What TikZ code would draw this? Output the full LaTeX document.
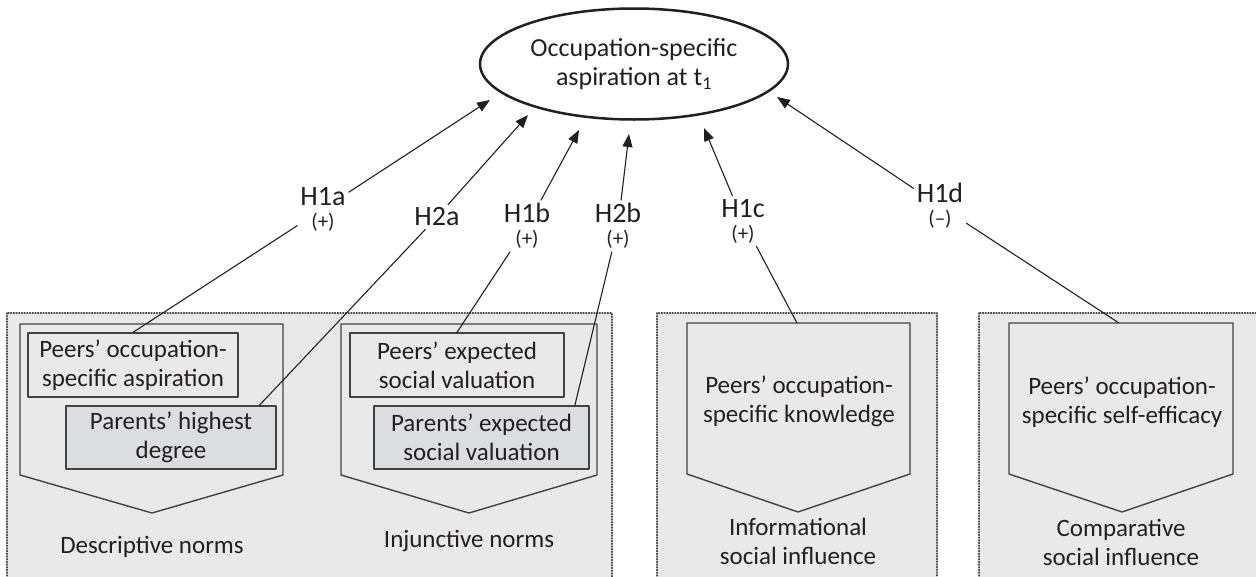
\documentclass[tikz,border=0pt]{standalone}
\usepackage{fontspec}
\setmainfont{Carlito}
\usetikzlibrary{arrows.meta,shapes.geometric}

\definecolor{ink}{RGB}{35,31,32}
\definecolor{panel}{RGB}{233,233,233}
\definecolor{parentfill}{RGB}{220,221,224}

\newcommand{\signfont}{\fontsize{21}{21}\selectfont}

\tikzset{
  txt/.style={font=\fontsize{25}{29}\selectfont, align=center, text=ink},
  hyp/.style={font=\fontsize{28}{23}\selectfont, align=center, text=ink, inner sep=3pt},
  panelbox/.style={fill=panel, draw=ink!80, line width=1.1pt, dash pattern=on 1.1pt off 1.6pt},
  frame/.style={draw=ink!85, line width=1.4pt},
  item/.style={txt, draw=ink!85, line width=1.3pt, inner sep=0pt, minimum height=64pt},
  link/.style={draw=ink, line width=1.1pt}
}

\begin{document}
\begin{tikzpicture}[x=1pt, y=-1pt, line cap=round, line join=round, >={Triangle[length=13pt,width=10pt]}]

  \useasboundingbox (0,0) rectangle (1256,576);
  \clip (0,0) rectangle (1256,576);

  \coordinate (tA) at (490,100);
  \coordinate (tB) at (528,115);
  \coordinate (tC) at (579,130);
  \coordinate (tD) at (629,134);
  \coordinate (tE) at (704,128);
  \coordinate (tF) at (777,97);
  \coordinate (know) at (797,323);
  \coordinate (effic) at (1119,323);

  \draw[panelbox] (7,313) rectangle (612,600);
  \draw[panelbox] (657,313) rectangle (937,600);
  \draw[panelbox] (979,313) rectangle (1264,600);

  \draw[frame] (20,324) -- (283,324) -- (283,475) -- (152,513) -- (20,475) -- cycle;
  \draw[frame] (341,324) -- (597,324) -- (597,475) -- (469,513) -- (341,475) -- cycle;
  \draw[frame] (687,323) -- (910,323) -- (910,474) -- (798,512) -- (687,474) -- cycle;
  \draw[frame] (1009,323) -- (1233,323) -- (1233,474) -- (1122,512) -- (1009,474) -- cycle;

  \node[ellipse, draw=ink, line width=2.5pt, inner sep=0pt, minimum width=308pt, minimum height=111pt, txt,
    font=\fontsize{26}{29}\selectfont]
    (occ) at (634,64) {Occupation-specific\\aspiration at t\textsubscript{1}};

  \node[item, fill=panel, minimum width=210pt] (pasp) at (133,365) {Peers' occupation-\\specific aspiration};
  \node[item, fill=parentfill, minimum width=210pt, minimum height=63pt] (pdeg) at (171,437.5) {Parents' highest\\degree};
  \node[item, fill=panel, minimum width=214pt] (pval) at (457,365) {Peers' expected\\social valuation};
  \node[item, fill=parentfill, minimum width=215pt, minimum height=63pt] (pexp) at (481.5,437.5) {Parents' expected\\social valuation};

  \node[txt] (kntext) at (799,401) {Peers' occupation-\\specific knowledge};
  \node[txt] (eftext) at (1122,402) {Peers' occupation-\\specific self-efficacy};

  \node[txt] (desc) at (152,547) {Descriptive norms};
  \node[txt] (inj) at (469,541) {Injunctive norms};
  \node[txt] (info) at (798,541) {Informational\\social influence};
  \node[txt] (comp) at (1121,542) {Comparative\\social influence};

  \node[hyp] (h1a) at (323,209) {H1a\\{\signfont (+)}};
  \node[hyp] (h2a) at (437,217) {H2a};
  \node[hyp] (h1b) at (527,226) {H1b\\{\signfont (+)}};
  \node[hyp] (h2b) at (618,226) {H2b\\{\signfont (+)}};
  \node[hyp] (h1c) at (743,221) {H1c\\{\signfont (+)}};
  \node[hyp] (h1d) at (940,206) {H1d\\{\signfont (--)}};

  \draw[link] (pasp.north) -- (h1a);
  \draw[link] (pdeg.20) -- (h2a);
  \draw[link] (pval.north) -- (h1b);
  \draw[link] (pexp.19) -- (h2b);
  \draw[link] (know) -- (h1c);
  \draw[link] (effic) -- (h1d);

  \draw[link, ->] (h1a) -- (tA);
  \draw[link, ->] (h2a) -- (tB);
  \draw[link, ->] (h1b) -- (tC);
  \draw[link, ->] (h2b) -- (tD);
  \draw[link, ->] (h1c) -- (tE);
  \draw[link, ->] (h1d) -- (tF);

\end{tikzpicture}
\end{document}
